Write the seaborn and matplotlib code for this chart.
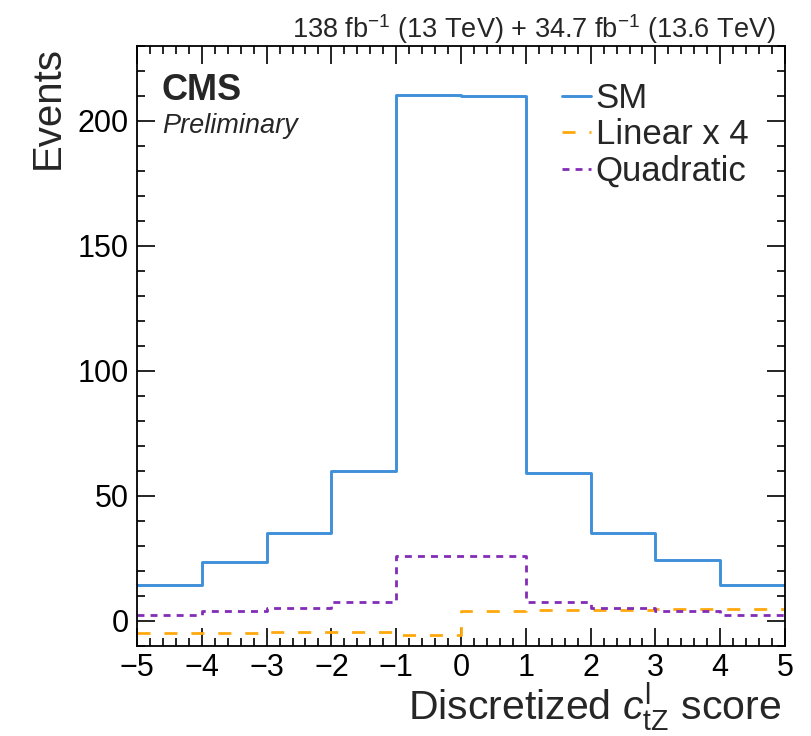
import numpy as np
import matplotlib
matplotlib.use("Agg")
import matplotlib.pyplot as plt
from matplotlib.ticker import MultipleLocator
import seaborn as sns

# bin edges of the discretized score and per-bin yields
edges = [-5, -4, -3, -2, -1, 0, 1, 2, 3, 4, 5]
centers = [-4.5, -3.5, -2.5, -1.5, -0.5, 0.5, 1.5, 2.5, 3.5, 4.5]
sm = [14.4, 23.7, 35.2, 60.0, 210.2, 209.8, 59.3, 35.2, 24.4, 14.4]
linear_x4 = [-4.7, -4.7, -4.3, -4.3, -5.6, 4.0, 4.3, 4.3, 4.8, 4.8]
quadratic = [2.4, 4.0, 5.1, 7.7, 26.0, 26.0, 7.7, 5.1, 4.0, 2.4]

sns.set_theme(style="ticks")
plt.rcParams["font.family"] = ["Liberation Sans", "DejaVu Sans"]
plt.rcParams["mathtext.fontset"] = "custom"
plt.rcParams["mathtext.rm"] = "Liberation Sans"
plt.rcParams["mathtext.it"] = "Liberation Sans:italic"
plt.rcParams["mathtext.bf"] = "Liberation Sans:bold"

fig = plt.figure(figsize=(8.12, 7.36), dpi=100)
ax = fig.add_axes([0.1687, 0.1223, 0.7981, 0.8152])

sns.histplot(x=centers, weights=sm, bins=edges, element="step", fill=False,
             color="#3f90da", linewidth=2.1, label="SM", ax=ax)
sns.histplot(x=centers, weights=linear_x4, bins=edges, element="step", fill=False,
             color="#ffa90e", linewidth=2, dashes=(4.7, 5.0), label="Linear x 4", ax=ax)
sns.histplot(x=centers, weights=quadratic, bins=edges, element="step", fill=False,
             color="#832db6", linewidth=2, dashes=(2.5, 2.2), label="Quadratic", ax=ax)

ax.set_xlim(-5, 5)
ax.set_ylim(-10, 230)
ax.xaxis.set_major_locator(MultipleLocator(1))
ax.xaxis.set_minor_locator(MultipleLocator(0.2))
ax.yaxis.set_major_locator(MultipleLocator(50))
ax.yaxis.set_minor_locator(MultipleLocator(10))
ax.tick_params(which="both", direction="in", top=True, right=True, width=1.2,
               labelsize=22, colors="black")
ax.tick_params(which="major", length=13)
ax.tick_params(which="minor", length=6)
ax.tick_params(axis="x", which="major", pad=5)
ax.tick_params(axis="y", which="major", pad=6)
for sp in ax.spines.values():
    sp.set_linewidth(1.3)
    sp.set_color("black")

ax.set_xlabel(r"Discretized $c^{\mathrm{l}}_{\mathrm{tZ}}$ score", fontsize=29.5, loc="right")
ax.xaxis.label.set_va("baseline")
ax.xaxis.set_label_coords(0.994, -0.124)
ax.set_ylabel("Events", fontsize=29, loc="top")
ax.yaxis.set_label_coords(-0.108, 1.0)

ax.text(0.0386, 0.955, "CMS", transform=ax.transAxes, fontsize=26,
        fontweight="bold", va="top", ha="left")
ax.text(0.0386, 0.888, "Preliminary", transform=ax.transAxes, fontsize=19.5,
        fontstyle="italic", va="top", ha="left")
ax.text(0.985, 1.013, r"138 fb$^{-1}$ (13 TeV) + 34.7 fb$^{-1}$ (13.6 TeV)",
        transform=ax.transAxes, fontsize=19.5, ha="right", va="baseline")

ax.legend(loc="upper left", bbox_to_anchor=(0.656, 0.94), frameon=False,
          fontsize=25, handlelength=0.82, handletextpad=0.15, labelspacing=0.1,
          borderpad=0, borderaxespad=0)

fig.savefig("out.png", dpi=100)
